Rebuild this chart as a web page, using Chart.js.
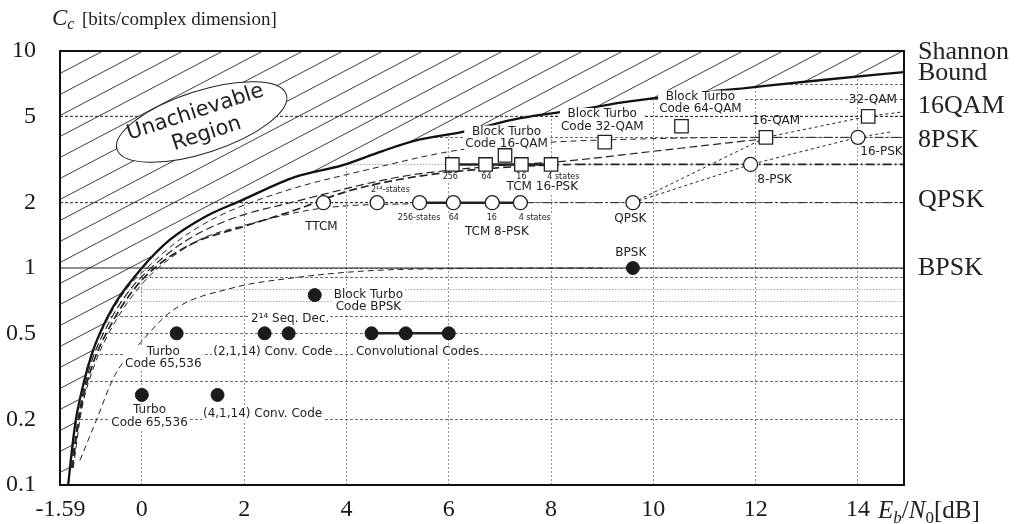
<!DOCTYPE html>
<html>
<head>
<meta charset="utf-8">
<title>Capacity vs Eb/N0</title>
<script src="https://cdn.jsdelivr.net/npm/chart.js@4.4.1/dist/chart.umd.min.js"></script>
<style>
  html, body { margin: 0; padding: 0; background: #fff; }
  #wrap { position: relative; width: 1028px; height: 524px; }
</style>
</head>
<body>
<div id="wrap"><canvas id="capChart"></canvas></div>
<script>
// values: x = Eb/N0 [dB], y = bits per complex dimension
const xTicks = [-1.59, 0, 2, 4, 6, 8, 10, 12, 14];
const yLabels = [0.1, 0.2, 0.5, 1, 2, 5, 10];
const yGrid = [0.1, 0.2, 0.3, 0.4, 0.5, 0.6, 0.7, 0.8, 0.9, 1, 2, 3, 4, 5, 6, 7, 8, 9, 10];
const xMin = -1.6, xMax = 14.9;

const shannonDb = [-1.44, -1.36, -1.29, -1.13, -0.98, -0.82, -0.5, 0, 0.55, 1.23, 1.95, 3.0, 3.93, 4.69, 5.4, 6.25, 7.4, 8.5, 9.5, 10.6, 11.8, 13.3, 14.9];
const shannonC  = [0.1, 0.15, 0.2, 0.3, 0.4, 0.5, 0.7, 1, 1.35, 1.72, 2.05, 2.63, 2.98, 3.45, 3.89, 4.23, 4.9, 5.35, 5.84, 6.3, 6.75, 7.35, 8.0];

// constrained capacity curves (dashed)
const qam16Db = [-1.40, -1.25, -1.05, -0.72, -0.3, 0.1, 0.7, 1.43, 2.76, 4.39, 6.21, 8.0, 9.53, 12.0, 14.9];
const qam16C  = [0.12, 0.22, 0.36, 0.55, 0.8, 1.0, 1.33, 1.7, 2.25, 2.83, 3.5, 3.8, 3.92, 4.0, 4.0];
const qamHiDb = [-1.38, -1.22, -1.0, -0.66, -0.22, 0.18, 0.85, 1.68, 3.09, 5.04, 5.95, 7.13, 8.16, 10.0, 12.0];
const qamHiC  = [0.12, 0.22, 0.36, 0.55, 0.8, 1.0, 1.33, 1.66, 2.05, 2.63, 2.81, 2.98, 3.09, 3.45, 3.9];
const psk8Db  = [-1.36, -1.2, -0.96, -0.6, -0.15, 0.25, 1.0, 1.98, 3.0, 4.0, 5.0, 6.0, 7.2, 8.5, 14.9];
const psk8C   = [0.12, 0.22, 0.36, 0.55, 0.8, 1.0, 1.3, 1.55, 1.85, 2.25, 2.55, 2.76, 2.92, 3.0, 3.0];
const qpskDb  = [-1.34, -1.18, -0.92, -0.55, -0.08, 0.32, 1.13, 1.91, 3.48, 5.43, 7.5, 14.9];
const qpskC   = [0.12, 0.22, 0.36, 0.55, 0.8, 1.0, 1.35, 1.55, 1.88, 1.98, 2.0, 2.0];
const bpskDb  = [-1.21, -0.885, -0.53, -0.01, 0.61, 1.78, 2.95, 4.4, 6.5, 9.0];
const bpskC   = [0.13, 0.2, 0.32, 0.457, 0.64, 0.81, 0.9, 0.97, 0.995, 1.0];

// reference levels drawn across the plot
const levelC  = [5, 2, 1];
const levelTo = [14.9, 7.5, 14.9];

// uncoded modulations (dotted)
const uncPskDb = [9.6, 11.9, 14.0, 14.67];
const uncPskC  = [2, 3, 4, 4.25];
const uncQamDb = [9.6, 12.2, 14.2, 14.9];
const uncQamC  = [2, 4, 5, 5.25];

// code operating points
const dotDb = [0.68, 2.4, 2.87, 4.49, 5.16, 6.0, 3.38, 0.0, 1.48, 9.6];
const dotC  = [0.5, 0.5, 0.5, 0.5, 0.5, 0.5, 0.75, 0.26, 0.26, 1];
const circleDb = [3.55, 4.6, 5.43, 6.09, 6.85, 7.4, 9.6, 11.9, 14.0];
const circleC  = [2, 2, 2, 2, 2, 2, 2, 3, 4];
const squareDb = [6.07, 6.72, 7.42, 8.0, 7.1, 9.05, 10.55, 12.2, 14.2];
const squareC  = [3, 3, 3, 3, 3.3, 3.8, 4.5, 4, 5];

const notes = [
  { t: ['Block Turbo', 'Code 16-QAM'], x: 7.13, y: 3.97 },
  { t: ['Block Turbo', 'Code 32-QAM'], x: 9.0, y: 4.78 },
  { t: ['Block Turbo', 'Code 64-QAM'], x: 10.92, y: 5.76 },
  { t: ['32-QAM'], x: 14.29, y: 5.98, plain: true },
  { t: ['16-QAM'], x: 12.4, y: 4.76, plain: true },
  { t: ['16-PSK'], x: 14.46, y: 3.42 },
  { t: ['8-PSK'], x: 12.37, y: 2.56 },
  { t: ['QPSK'], x: 9.55, y: 1.69 },
  { t: ['BPSK'], x: 9.56, y: 1.18 },
  { t: ['256'], x: 6.03, y: 2.62, small: true },
  { t: ['64'], x: 6.74, y: 2.62, small: true },
  { t: ['16'], x: 7.42, y: 2.62, small: true },
  { t: ['4 states'], x: 8.24, y: 2.62, small: true },
  { t: ['TCM 16-PSK'], x: 7.83, y: 2.36 },
  { t: ['2¹⁴-states'], x: 4.86, y: 2.29, small: true },
  { t: ['256-states'], x: 5.42, y: 1.70, small: true },
  { t: ['64'], x: 6.1, y: 1.70, small: true },
  { t: ['16'], x: 6.84, y: 1.70, small: true },
  { t: ['4 states'], x: 7.68, y: 1.70, small: true },
  { t: ['TCM 8-PSK'], x: 6.94, y: 1.46 },
  { t: ['TTCM'], x: 3.51, y: 1.55 },
  { t: ['Block Turbo', 'Code BPSK'], x: 4.43, y: 0.705 },
  { t: ['2¹⁴ Seq. Dec.'], x: 2.9, y: 0.582 },
  { t: ['Turbo', 'Code 65,536'], x: 0.42, y: 0.385 },
  { t: ['(2,1,14) Conv. Code'], x: 2.56, y: 0.412 },
  { t: ['Convolutional Codes'], x: 5.39, y: 0.412 },
  { t: ['Turbo', 'Code 65,536'], x: 0.15, y: 0.207 },
  { t: ['(4,1,14) Conv. Code'], x: 2.36, y: 0.212 }
];
const sideLabels = [['Shannon', 9.9], ['Bound', 7.91], ['16QAM', 5.58], ['8PSK', 3.89], ['QPSK', 2.06], ['BPSK', 1.0]];
const ellipseAt = [1.17, 4.71];

const pts = (xs, ys) => xs.map((x, i) => ({ x: x, y: ys[i] }));

function hatchPattern() {
  const c = document.createElement('canvas');
  c.width = 40; c.height = 21;
  const g = c.getContext('2d');
  g.fillStyle = '#fff';
  g.fillRect(0, 0, 40, 21);
  g.strokeStyle = '#2a2a2a';
  g.lineWidth = 0.9;
  for (const k of [-1, 0, 1]) {
    g.beginPath();
    g.moveTo(0, 21 + 21 * k);
    g.lineTo(40, 21 * k);
    g.stroke();
  }
  return g.createPattern(c, 'repeat');
}

const lineBase = {
  showLine: true, pointRadius: 0, borderColor: '#222', borderWidth: 1,
  fill: false, cubicInterpolationMode: 'monotone'
};
// horizontal tails of the capacity curves are dash-dot
const tailDash = base => ({
  borderDash: ctx => ctx.p0.parsed.y === ctx.p1.parsed.y ? [9, 3, 2, 3] : base
});

const markers = [
  { data: pts(dotDb, dotC), showLine: false, pointRadius: 6.5,
    pointBackgroundColor: '#1b1b1b', pointBorderColor: '#1b1b1b' },
  { data: pts(circleDb, circleC), showLine: false, pointRadius: 7,
    pointBackgroundColor: '#fff', pointBorderColor: '#222', pointBorderWidth: 1.3 },
  { data: pts(squareDb, squareC), showLine: false, pointStyle: 'rect', pointRadius: 9.5,
    pointBackgroundColor: '#fff', pointBorderColor: '#222', pointBorderWidth: 1.3 }
];

const lines = [
  { ...lineBase, data: pts(circleDb.slice(2, 6), circleC.slice(2, 6)), borderWidth: 2.6 },
  { ...lineBase, data: pts(squareDb.slice(0, 4), squareC.slice(0, 4)), borderWidth: 2.6 },
  { ...lineBase, data: pts(dotDb.slice(3, 6), dotC.slice(3, 6)), borderWidth: 2.6 },
  { ...lineBase, data: pts(uncPskDb, uncPskC), borderDash: [3, 3], cubicInterpolationMode: 'default', tension: 0 },
  { ...lineBase, data: pts(uncQamDb, uncQamC), borderDash: [3, 3], cubicInterpolationMode: 'default', tension: 0 },
  ...levelC.map((c, i) => ({
    ...lineBase, data: [{ x: xMin, y: c }, { x: levelTo[i], y: c }],
    borderDash: c === 1 ? [] : [3, 2], borderWidth: c === 1 ? 1.2 : 1
  })),
  { ...lineBase, data: pts(bpskDb, bpskC), borderDash: [6, 4] },
  { ...lineBase, data: pts(qpskDb, qpskC), borderDash: [6, 4], segment: tailDash([6, 4]) },
  { ...lineBase, data: pts(psk8Db, psk8C), borderDash: [8, 4], borderWidth: 1.7, segment: tailDash([8, 4]) },
  { ...lineBase, data: pts(qamHiDb, qamHiC), borderDash: [8, 4], borderWidth: 1.2 },
  { ...lineBase, data: pts(qam16Db, qam16C), borderDash: [6, 4], segment: tailDash([6, 4]) },
  { ...lineBase, data: pts(shannonDb, shannonC), borderWidth: 2.3, borderColor: '#111' },
  { ...lineBase, data: [{ x: xMin, y: 0.1 }, ...pts(shannonDb, shannonC)], borderWidth: 0,
    fill: 'end', backgroundColor: hatchPattern() }
];

function drawNotes(chart) {
  const { ctx, scales: { x, y } } = chart;
  ctx.save();
  ctx.translate(x.getPixelForValue(ellipseAt[0]), y.getPixelForValue(ellipseAt[1]));
  ctx.rotate(-18 * Math.PI / 180);
  ctx.beginPath();
  ctx.ellipse(0, 0, 89, 31, 0, 0, 2 * Math.PI);
  ctx.fillStyle = '#fff';
  ctx.fill();
  ctx.lineWidth = 1;
  ctx.strokeStyle = '#222';
  ctx.stroke();
  ctx.fillStyle = '#222';
  ctx.font = '21px "DejaVu Sans"';
  ctx.textAlign = 'center';
  ctx.textBaseline = 'middle';
  ctx.fillText('Unachievable', -3, -11);
  ctx.fillText('Region', 1, 13);
  ctx.restore();

  ctx.save();
  ctx.textAlign = 'center';
  ctx.textBaseline = 'middle';
  notes.forEach(n => {
    const size = n.small ? 8 : 12;
    const lh = n.small ? 9 : 12.5;
    ctx.font = size + 'px "DejaVu Sans"';
    const cx = x.getPixelForValue(n.x);
    const cy = y.getPixelForValue(n.y);
    const h = n.t.length * lh;
    if (!n.plain) {
      const w = Math.max(...n.t.map(s => ctx.measureText(s).width)) + 2;
      ctx.fillStyle = '#fff';
      ctx.fillRect(cx - w / 2, cy - h / 2, w, h);
    }
    ctx.fillStyle = '#222';
    n.t.forEach((s, i) => ctx.fillText(s, cx, cy - h / 2 + lh * (i + 0.5)));
  });
  ctx.restore();
}

const decor = {
  id: 'decor',
  beforeDatasetDraw(chart, args) {
    if (args.index === markers.length - 1) drawNotes(chart);
  },
  afterDraw(chart) {
    const { ctx, chartArea: a, scales: { y } } = chart;
    ctx.save();
    ctx.lineWidth = 2;
    ctx.strokeStyle = '#111';
    ctx.strokeRect(a.left, a.top, a.right - a.left, a.bottom - a.top);

    ctx.fillStyle = '#222';
    ctx.textAlign = 'left';
    ctx.textBaseline = 'middle';
    ctx.font = '26px "Liberation Serif"';
    sideLabels.forEach(([s, v]) => ctx.fillText(s, a.right + 14, y.getPixelForValue(v)));

    // axis titles
    ctx.textBaseline = 'alphabetic';
    ctx.font = 'italic 23px "Liberation Serif"';
    ctx.fillText('C', 52, 25);
    const w = ctx.measureText('C').width;
    ctx.font = 'italic 16px "Liberation Serif"';
    ctx.fillText('c', 52 + w, 29);
    ctx.font = '19px "Liberation Serif"';
    ctx.fillText('[bits/complex dimension]', 82, 25);

    let px = 878;
    const base = 518;
    const part = (s, font, dy) => {
      ctx.font = font;
      ctx.fillText(s, px, base + dy);
      px += ctx.measureText(s).width;
    };
    part('E', 'italic 25px "Liberation Serif"', 0);
    part('b', 'italic 17px "Liberation Serif"', 5);
    part('/', '25px "Liberation Serif"', 0);
    part('N', 'italic 25px "Liberation Serif"', 0);
    part('0', '17px "Liberation Serif"', 5);
    part('[dB]', '25px "Liberation Serif"', 0);
    ctx.restore();
  }
};

const lightLevels = [0.7, 0.8, 3];

new Chart(document.getElementById('capChart').getContext('2d'), {
  type: 'line',
  data: { datasets: [...markers, ...lines] },
  options: {
    responsive: true,
    maintainAspectRatio: false,
    animation: false,
    events: [],
    layout: { padding: { top: 51, right: 124, bottom: 0, left: 0 } },
    plugins: { legend: { display: false }, tooltip: { enabled: false } },
    scales: {
      x: {
        type: 'linear',
        min: xMin,
        max: xMax,
        afterBuildTicks: axis => { axis.ticks = xTicks.map(v => ({ value: v })); },
        afterFit: axis => { axis.height = 39; },
        grid: {
          drawTicks: false,
          lineWidth: 0.8,
          color: ctx => ctx.tick && ctx.tick.value > -1 ? '#777' : 'rgba(0,0,0,0)'
        },
        border: { display: false, dash: [2, 2] },
        ticks: {
          autoSkip: false, maxRotation: 0, padding: 10, color: '#1a1a1a',
          font: { family: '"Liberation Serif"', size: 24 },
          callback: v => String(v)
        }
      },
      y: {
        type: 'logarithmic',
        min: 0.1,
        max: 10,
        afterBuildTicks: axis => { axis.ticks = yGrid.map(v => ({ value: v })); },
        afterFit: axis => { axis.width = 60; },
        grid: {
          drawTicks: false,
          lineWidth: 0.8,
          color: ctx => {
            const v = ctx.tick ? ctx.tick.value : 0;
            if (v === 0.1 || v === 10) return 'rgba(0,0,0,0)';
            return lightLevels.includes(v) ? '#999' : '#444';
          }
        },
        border: {
          display: false,
          dash: ctx => ctx.tick && lightLevels.includes(ctx.tick.value) ? [1.5, 1.5] : [3, 2]
        },
        ticks: {
          autoSkip: false, padding: 24, color: '#1a1a1a',
          font: { family: '"Liberation Serif"', size: 24 },
          callback: v => yLabels.includes(v) ? String(v) : ''
        }
      }
    }
  },
  plugins: [decor]
});
</script>
</body>
</html>
